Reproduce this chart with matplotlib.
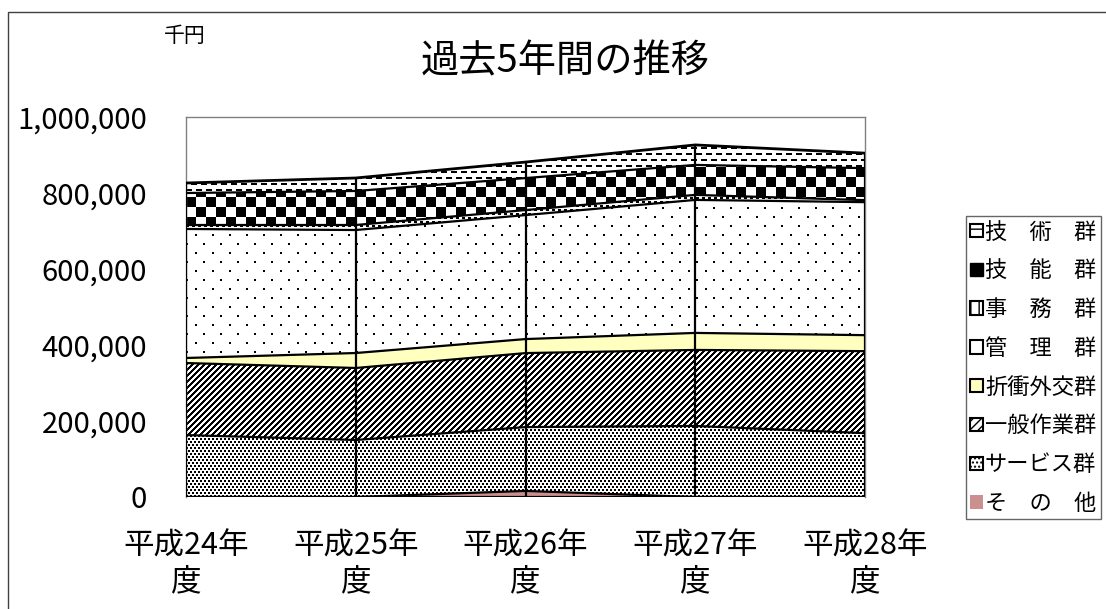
import numpy as np
import matplotlib
matplotlib.use("Agg")
from matplotlib import pyplot as plt
from matplotlib.patches import Patch, Rectangle

plt.rcParams['font.family'] = ['Noto Sans CJK JP', 'DejaVu Sans']
plt.rcParams['hatch.linewidth'] = 1.0

# data (千円)
years = ["平成24年\n度", "平成25年\n度", "平成26年\n度", "平成27年\n度", "平成28年\n度"]
sonota = [0, 0, 16000, 0, 0]
service = [163000, 150000, 168000, 187000, 168000]
ippan = [189600, 189500, 194700, 200000, 215800]
sessho = [13200, 39400, 36900, 44800, 42100]
kanri = [339500, 323700, 326300, 350000, 350000]
jimu = [10500, 13200, 13200, 13200, 5300]
gino = [84200, 89500, 84200, 78900, 84200]
gijutsu = [26300, 34200, 42100, 52600, 39500]

names = ["そ　の　他", "サービス群", "一般作業群", "折衝外交群",
         "管　理　群", "事　務　群", "技　能　群", "技　術　群"]
series = [sonota, service, ippan, sessho, kanri, jimu, gino, gijutsu]

W, H = 1106, 609
fig = plt.figure(figsize=(W / 100, H / 100), dpi=100)
ax = fig.add_axes([186 / W, 1 - 497 / H, (865 - 186) / W, (497 - 117) / H])
ax.set_xlim(0, 4)
ax.set_ylim(0, 1000000)

x = np.arange(len(years))
pw, ph = 865 - 186, 497 - 117

# fill patterns drawn as pixel textures (1 = white, 0 = black)
yy, xx = np.mgrid[0:ph, 0:pw]
checker = (((xx // 10) + (yy // 10)) % 2).astype(float)
dash = np.ones((ph, pw))
dash[((yy % 6) < 2) & (((xx + ((yy // 6) % 2) * 5) % 10) < 6)] = 0.0
stipple = np.ones((ph, pw))
stipple[((xx + ((yy // 3) % 2) * 2) % 4 < 2) & (yy % 3 < 2)] = 0.0
diag = (((xx + yy) % 6) >= 3).astype(float)
sparse = np.ones((ph, pw))
sparse[((yy % 9) < 2) & (((xx + ((yy // 9) % 2) * 8) % 17) < 2)] = 0.0
tiny = np.ones((ph, pw))
tiny[((yy % 4) < 2) & ((xx % 6) < 3)] = 0.0

styles = [
    dict(fc="#cc8f8f", tex=None),
    dict(fc="white", tex=stipple),
    dict(fc="white", tex=diag),
    dict(fc="#ffffc0", tex=None),
    dict(fc="white", tex=sparse),
    dict(fc="white", tex=tiny),
    dict(fc="white", tex=checker),
    dict(fc="white", tex=dash),
]

bottom = np.zeros(len(x))
for i, s in enumerate(series):
    top = bottom + np.array(s)
    st = styles[i]
    poly = ax.fill_between(x, bottom, top, facecolor=st["fc"], linewidth=0, zorder=2)
    if st["tex"] is not None:
        im = ax.imshow(st["tex"], cmap="gray", vmin=0, vmax=1, extent=(0, 4, 0, 1000000),
                       aspect="auto", interpolation="nearest", zorder=2.5)
        im.set_clip_path(poly.get_paths()[0], transform=ax.transData)
    ax.plot(x, top, color="black", lw=2 if i == 7 else 1.6, zorder=4)
    bottom = top

ax.vlines(x, 0, bottom, color="black", lw=1.6, zorder=4)
ax.plot(x, np.zeros(len(x)), color="black", lw=1.6, zorder=4)

for sp in ax.spines.values():
    sp.set_color("#808080")
    sp.set_linewidth(1.0)
ax.spines["bottom"].set_visible(False)

ax.set_yticks(np.arange(0, 1000001, 200000))
ax.set_yticklabels([f"{v:,}" for v in range(0, 1000001, 200000)], fontsize=21)
ax.set_xticks(x)
ax.set_xticklabels(years, fontsize=22, linespacing=1.2)
ax.tick_params(axis="y", length=0, pad=28)
ax.tick_params(axis="x", length=0, pad=24)

fig.text(565 / W, 1 - 62 / H, "過去5年間の推移", ha="center", va="center", fontsize=27.5)
fig.text(185 / W, 1 - 36 / H, "千円", ha="center", va="center", fontsize=15)

# legend, reversed order like the original
hatches = [None, "....", "////", None, "", "||", "++", "--"]
handles = []
for i in range(len(series) - 1, -1, -1):
    if i == 0:
        handles.append(Patch(facecolor=styles[i]["fc"], edgecolor="none", label=names[i]))
    elif i == 6:
        handles.append(Patch(facecolor="black", edgecolor="black", label=names[i]))
    else:
        handles.append(Patch(facecolor=styles[i]["fc"], edgecolor="black", hatch=hatches[i],
                             linewidth=1.5, label=names[i]))
leg = fig.legend(handles=handles, loc="upper left", bbox_to_anchor=(966 / W, 1 - 216 / H),
                 fontsize=16, frameon=True, fancybox=False, edgecolor="#404040",
                 handlelength=0.55, handleheight=0.55, handletextpad=0.1,
                 labelspacing=0.71, borderpad=0.2, borderaxespad=0)
leg.get_frame().set_linewidth(1.0)

fig.patches.append(Rectangle((8 / W, -0.1), 1.2, 1 - 12 / H + 0.1, transform=fig.transFigure,
                             fill=False, edgecolor="#404040", lw=1.0))

fig.savefig("out.png", dpi=100)
